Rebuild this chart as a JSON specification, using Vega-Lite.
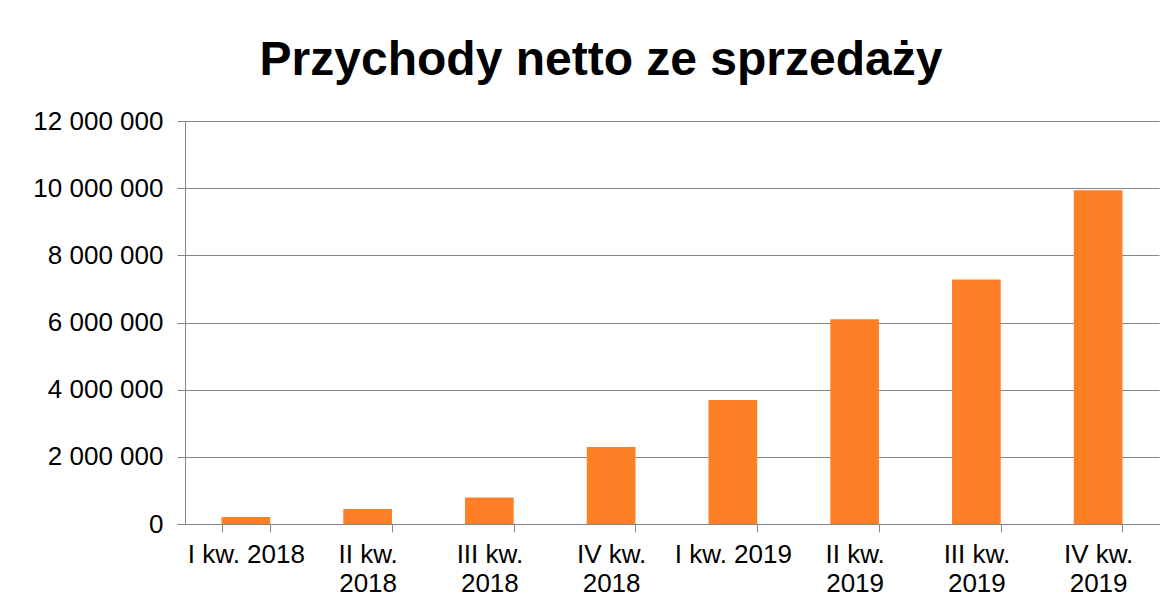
{
  "$schema": "https://vega.github.io/schema/vega-lite/v6.json",
  "width": 974,
  "height": 403,
  "autosize": {"type": "none"},
  "padding": {"left": 185, "top": 121, "right": 17, "bottom": 86},
  "background": "white",
  "title": {
    "text": "Przychody netto ze sprzedaży",
    "font": "Liberation Sans",
    "fontSize": 48,
    "fontWeight": "bold",
    "color": "black",
    "anchor": "middle",
    "frame": "group",
    "dx": -71,
    "dy": 44,
    "baseline": "alphabetic",
    "offset": 29
  },
  "config": {
    "view": {"stroke": null},
    "axis": {
      "labelFont": "Liberation Sans",
      "labelFontSize": 26,
      "labelColor": "black",
      "domainColor": "#868686",
      "tickColor": "#868686",
      "gridColor": "#868686",
      "gridOpacity": 1,
      "tickSize": 8,
      "domainWidth": 1,
      "tickWidth": 1,
      "gridWidth": 1
    }
  },
  "data": {
    "values": [
      {"kwartal": "I kw. 2018", "wartosc": 210000},
      {"kwartal": "II kw. 2018", "wartosc": 450000},
      {"kwartal": "III kw. 2018", "wartosc": 790000},
      {"kwartal": "IV kw. 2018", "wartosc": 2290000},
      {"kwartal": "I kw. 2019", "wartosc": 3690000},
      {"kwartal": "II kw. 2019", "wartosc": 6100000},
      {"kwartal": "III kw. 2019", "wartosc": 7280000},
      {"kwartal": "IV kw. 2019", "wartosc": 9940000}
    ]
  },
  "mark": {"type": "bar", "color": "#FF7F27"},
  "encoding": {
    "x": {
      "field": "kwartal",
      "type": "nominal",
      "sort": null,
      "scale": {"paddingInner": 0.6, "paddingOuter": 0.3},
      "axis": {
        "title": null,
        "labelAngle": 0,
        "labelPadding": 9,
        "labelLineHeight": 29,
        "labelOverlap": false,
        "labelBound": false,
        "tickBand": "extent",
        "labelExpr": "substring(datum.label, 0, 2) == 'I ' ? datum.label : [slice(datum.label, 0, -5), slice(datum.label, -4)]"
      }
    },
    "y": {
      "field": "wartosc",
      "type": "quantitative",
      "scale": {"domain": [0, 12000000], "nice": false},
      "axis": {
        "title": null,
        "grid": true,
        "values": [0, 2000000, 4000000, 6000000, 8000000, 10000000, 12000000],
        "labelPadding": 14,
        "labelExpr": "replace(format(datum.value, ',d'), regexp(',', 'g'), ' ')"
      }
    }
  }
}
